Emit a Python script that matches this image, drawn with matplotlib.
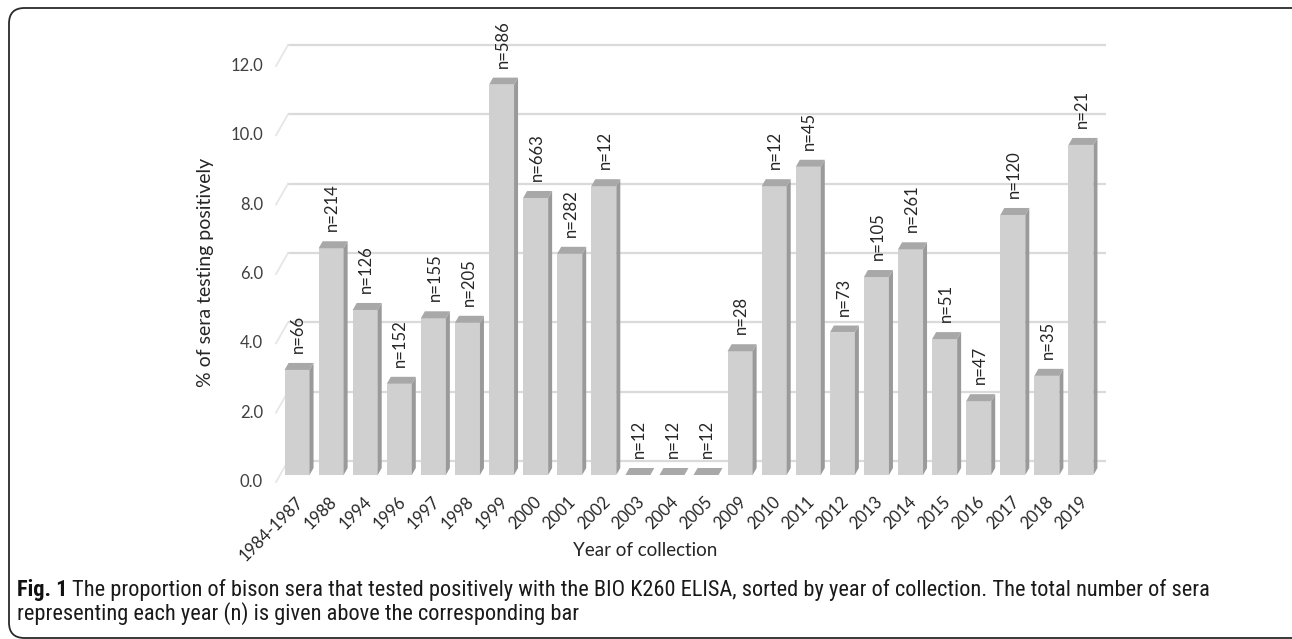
import matplotlib
matplotlib.use("Agg")
import matplotlib.pyplot as plt
from matplotlib.patches import Polygon, Rectangle, FancyBboxPatch

# Data: share of sera testing positive (%) and sample size per collection year
years = ["1984-1987", "1988", "1994", "1996", "1997", "1998", "1999", "2000",
         "2001", "2002", "2003", "2004", "2005", "2009", "2010", "2011",
         "2012", "2013", "2014", "2015", "2016", "2017", "2018", "2019"]
percent_positive = [3.03, 6.54, 4.76, 2.63, 4.52, 4.39, 11.26, 7.99,
                    6.38, 8.33, 0.0, 0.0, 0.0, 3.57, 8.33, 8.89,
                    4.11, 5.71, 6.51, 3.92, 2.13, 7.50, 2.86, 9.52]
n_sera = [66, 214, 126, 152, 155, 205, 586, 663,
          282, 12, 12, 12, 12, 28, 12, 45,
          73, 105, 261, 51, 47, 120, 35, 21]
y_ticks = [0.0, 2.0, 4.0, 6.0, 8.0, 10.0, 12.0]

W, H = 1292, 639
fig = plt.figure(figsize=(W / 100, H / 100), dpi=100)
fig.patch.set_facecolor("white")

chart_fam = ["Lato", "DejaVu Sans"]
text_col = "#262626"

# plot region in pixels (bar front plane)
left_px, right_px, zero_px = 280, 1098, 475
px_per_cat = (right_px - left_px) / len(years)
px_per_unit = 34.67
ytop = 13.0
ax = fig.add_axes([left_px / W, (H - zero_px) / H,
                   (right_px - left_px) / W, ytop * px_per_unit / H])
ax.set_xlim(-0.5, len(years) - 0.5)
ax.set_ylim(0, ytop)
ax.axis("off")

def dx(px):
    return px / px_per_cat

def dy(px):
    return px / px_per_unit

# pseudo-3D depth: full floor depth and bar depth (pixels)
depth_x, depth_y = 12, 21
front_f, back_f = -1 / 3, 2 / 3
grid_col = "#dadada"
side_grid_col = "#e6e6e6"

x0 = -0.5
x1 = len(years) - 0.5
for v in y_ticks:
    # back wall line
    yb = v + dy(back_f * depth_y)
    ax.plot([x0 + dx(back_f * depth_x), x1 + dx(back_f * depth_x)], [yb, yb],
            color=grid_col, lw=1.6, clip_on=False, zorder=1, solid_capstyle="butt")
    # left side wall line
    ax.plot([x0 + dx(front_f * depth_x), x0 + dx(back_f * depth_x)],
            [v + dy(front_f * depth_y), yb],
            color=side_grid_col, lw=1.3, clip_on=False, zorder=1)
    ax.text(x0 - dx(17), v + dy(front_f * depth_y), f"{v:.1f}",
            ha="right", va="center", fontsize=12, color="#404040",
            family=chart_fam)

bar_w = 25 / px_per_cat
ox, oy = dx(depth_x / 3), dy(depth_y / 3)
front_col, top_col, side_col = "#d0d0d0", "#a8a8a8", "#9a9a9a"

for i, (v, n) in enumerate(zip(percent_positive, n_sera)):
    xl, xr = i - bar_w / 2, i + bar_w / 2
    if v > 0:
        ax.add_patch(Rectangle((xl, 0), bar_w, v, facecolor=front_col,
                               edgecolor="none", zorder=3))
        ax.add_patch(Polygon([(xr, 0), (xr + ox, oy), (xr + ox, v + oy), (xr, v)],
                             closed=True, facecolor=side_col, edgecolor="none",
                             zorder=3))
    ax.add_patch(Polygon([(xl, v), (xr, v), (xr + ox, v + oy), (xl + ox, v + oy)],
                         closed=True, facecolor=top_col, edgecolor="none", zorder=3))
    ax.text(i + 0.03, v + oy + dy(10), f"n={n}", rotation=90, ha="center",
            va="bottom", fontsize=12, color=text_col,
            family=chart_fam, zorder=4)
    ax.text(i - 0.06, -dy(19), years[i], rotation=45, rotation_mode="anchor",
            ha="right", va="top", fontsize=12, color=text_col,
            family=chart_fam, clip_on=False)

fig.text(205 / W, 1 - 272 / H, "% of sera testing positively", rotation=90,
         ha="center", va="center", fontsize=14, color=text_col, family=chart_fam)
fig.text(645 / W, 1 - 551 / H, "Year of collection", ha="center", va="center",
         fontsize=13.5, color=text_col, family=chart_fam)

# caption, sized so the first line spans the frame width
cap_fam = ["Roboto Condensed", "Liberation Sans Narrow", "Roboto", "DejaVu Sans"]
cap_left, cap_right = 17, 1215
cap_body = ("The proportion of bison sera that tested positively with the BIO K260 "
            "ELISA, sorted by year of collection. The total number of sera")
cap_size = 12.5
t1 = fig.text(cap_left / W, 1 - 590 / H, "Fig. 1", ha="left", va="center",
              fontsize=cap_size, fontweight="bold", color="#111111", family=cap_fam)
t2 = fig.text(0, 1 - 590 / H, cap_body, ha="left", va="center",
              fontsize=cap_size, color="#1a1a1a", family=cap_fam)
t3 = fig.text(cap_left / W, 1 - 614 / H,
              "representing each year (n) is given above the corresponding bar",
              ha="left", va="center", fontsize=cap_size, color="#1a1a1a", family=cap_fam)
renderer = fig.canvas.get_renderer()
for _ in range(2):
    b1 = t1.get_window_extent(renderer)
    t2.set_x((b1.x1 + 5) / W)
    b2 = t2.get_window_extent(renderer)
    scale = (cap_right - cap_left) / (b2.x1 - cap_left)
    cap_size *= scale
    for t in (t1, t2, t3):
        t.set_fontsize(cap_size)
b1 = t1.get_window_extent(renderer)
t2.set_x((b1.x1 + 5) / W)

# rounded frame around the figure
frame = FancyBboxPatch((9 / W, 1 / H), 1.2, (H - 9) / H,
                       boxstyle="round,pad=0,rounding_size=0.012",
                       transform=fig.transFigure, facecolor="none",
                       edgecolor="#2a2a2a", lw=1.3, mutation_aspect=W / H)
fig.patches.append(frame)

fig.savefig("out.png", dpi=100, facecolor="white")
